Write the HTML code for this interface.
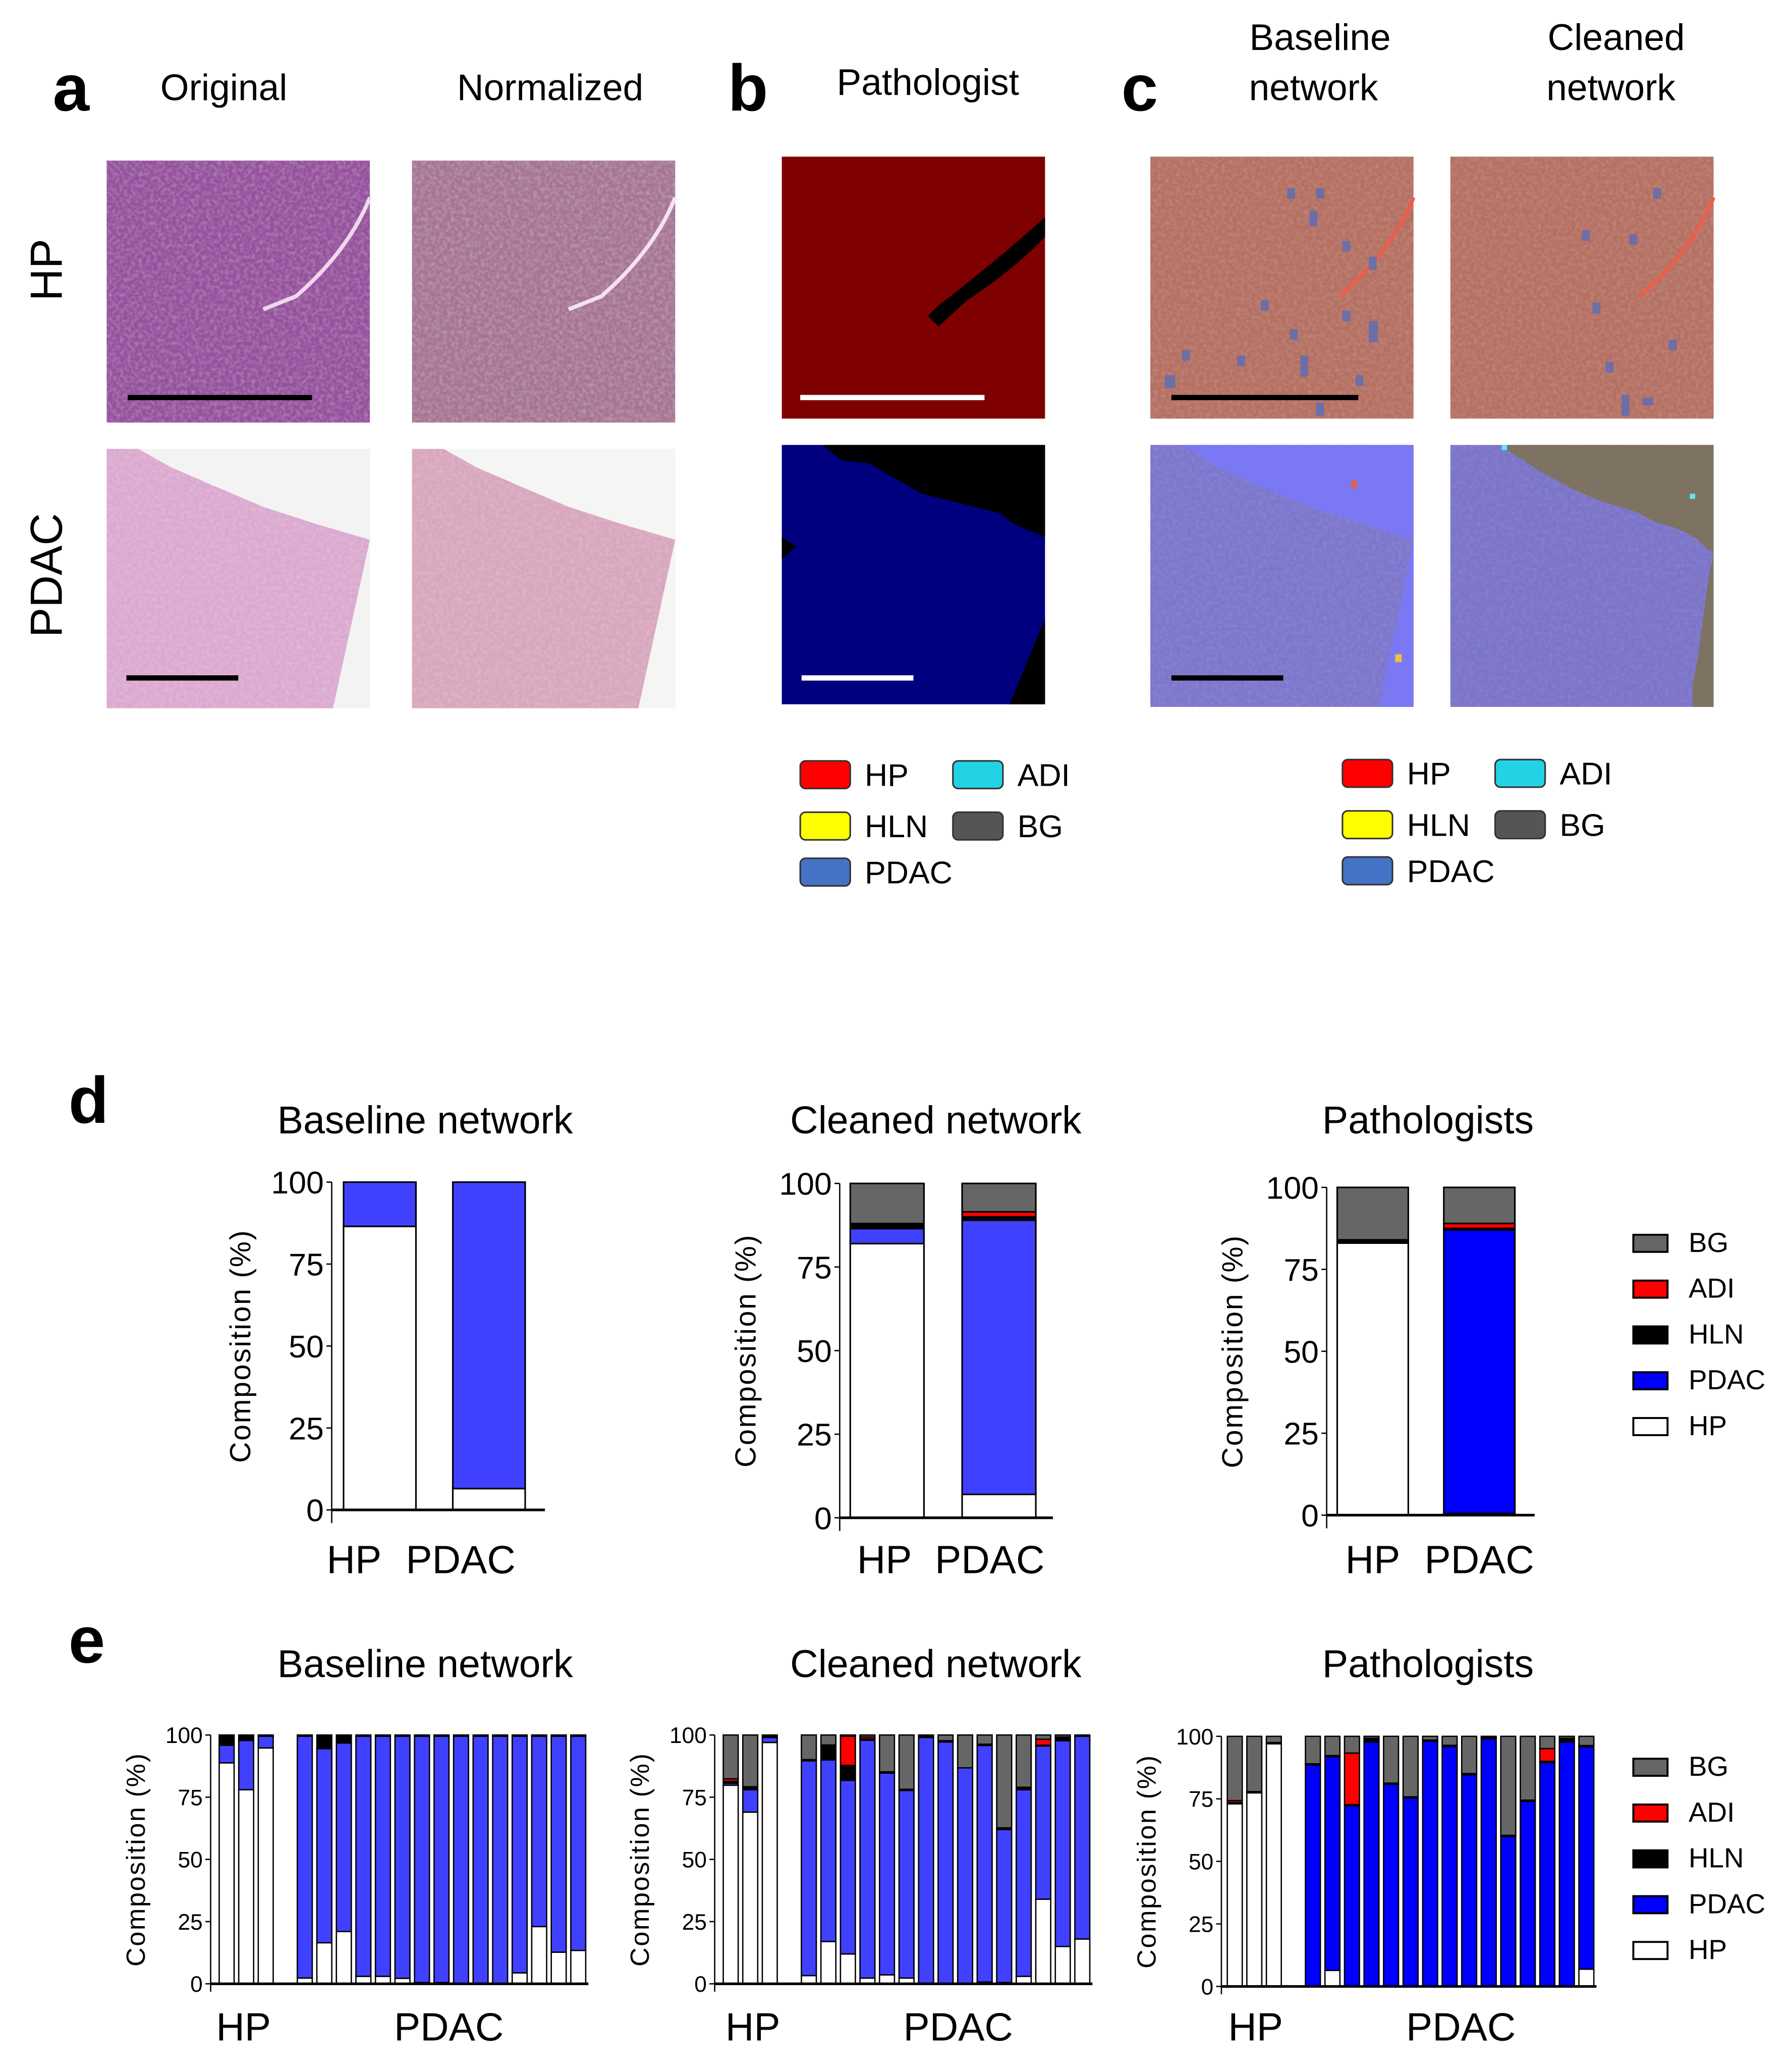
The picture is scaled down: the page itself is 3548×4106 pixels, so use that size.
<!DOCTYPE html>
<html><head><meta charset="utf-8">
<style>
html,body{margin:0;padding:0;background:#fff;}
svg{display:block;}
.t{font-family:"Liberation Sans",Arial,sans-serif;fill:#000;}
.n{font-family:"Liberation Sans Narrow","Liberation Sans",Arial,sans-serif;fill:#000;}
</style></head>
<body>
<svg id="fig" width="3548" height="4106" viewBox="0 0 1360 1574" xmlns="http://www.w3.org/2000/svg">
<defs>
<filter id="grain" x="0" y="0" width="1" height="1">
<feTurbulence type="fractalNoise" baseFrequency="0.35" numOctaves="2" seed="3"/>
<feColorMatrix type="matrix" values="0 0 0 0 1  0 0 0 0 1  0 0 0 0 1  0 0 0 -1.4 0.9"/>
</filter>
</defs>

<text class="t" x="40" y="84" font-size="50" font-weight="bold">a</text>
<text class="t" x="170" y="76" font-size="28" text-anchor="middle">Original</text>
<text class="t" x="418" y="76" font-size="28" text-anchor="middle">Normalized</text>
<text class="t" x="553" y="84" font-size="50" font-weight="bold">b</text>
<text class="t" x="705" y="72" font-size="28" text-anchor="middle">Pathologist</text>
<text class="t" x="852" y="84" font-size="50" font-weight="bold">c</text>
<text class="t" x="1003" y="38" font-size="28" text-anchor="middle"><tspan x="1003">Baseline</tspan><tspan x="998" dy="38">network</tspan></text>
<text class="t" x="1228" y="38" font-size="28" text-anchor="middle"><tspan x="1228">Cleaned</tspan><tspan x="1224" dy="38">network</tspan></text>
<text class="t" font-size="34" text-anchor="middle" transform="translate(47,205) rotate(-90)">HP</text>
<text class="t" font-size="34" text-anchor="middle" transform="translate(47,437) rotate(-90)">PDAC</text>

<g>
<rect x="81" y="122" width="200" height="199" fill="#94519c"/>
<rect x="81" y="122" width="200" height="199" filter="url(#grain)" opacity="0.35"/>
<path d="M281,150 Q265,190 225,225 L200,235" stroke="#f0d8ec" stroke-width="3" fill="none"/>
<rect x="97" y="300" width="140" height="4" fill="#000"/>
</g>
<g>
<rect x="313" y="122" width="200" height="199" fill="#a57494"/>
<rect x="313" y="122" width="200" height="199" filter="url(#grain)" opacity="0.35"/>
<path d="M513,150 Q497,190 457,225 L432,235" stroke="#f5e2ee" stroke-width="3" fill="none"/>
</g>
<g>
<rect x="81" y="341" width="200" height="197" fill="#dba9cf"/>
<rect x="81" y="341" width="200" height="197" filter="url(#grain)" opacity="0.25"/>
<polygon points="105,341 281,341 281,538 253,538 281,410 240,398 200,385 160,368 130,355" fill="#f4f3f4"/>
<rect x="96" y="513" width="85" height="4" fill="#000"/>
</g>
<g>
<rect x="313" y="341" width="200" height="197" fill="#d8a6bd"/>
<rect x="313" y="341" width="200" height="197" filter="url(#grain)" opacity="0.25"/>
<polygon points="337,341 513,341 513,538 485,538 513,410 472,398 432,385 392,368 362,355" fill="#f5f6f4"/>
</g>

<g>
<rect x="594" y="119" width="200" height="199" fill="#7f0000"/>
<path d="M794,165 L794,180 Q770,205 735,228 L713,248 L705,240 L713,232 Q755,200 794,165 Z" fill="#000"/>
<rect x="608" y="300" width="140" height="4" fill="#fff"/>
</g>
<g>
<rect x="594" y="338" width="200" height="197" fill="#00007f"/>
<polygon points="625,338 794,338 794,408 770,398 760,390 700,375 660,352 640,350" fill="#000"/>
<polygon points="794,470 794,535 767,535" fill="#000"/>
<polygon points="594,408 605,415 594,425" fill="#000"/>
<rect x="609" y="513" width="85" height="4" fill="#fff"/>
</g>

<g>
<rect x="874" y="119" width="200" height="199" fill="#b47062"/>
<rect x="874" y="119" width="200" height="199" filter="url(#grain)" opacity="0.2"/>
<path d="M1074,150 Q1058,190 1018,225" stroke="#e8604a" stroke-width="3" fill="none"/>
<g fill="#6c6ea8">
<rect x="978" y="143" width="6" height="8"/><rect x="1000" y="143" width="6" height="8"/><rect x="995" y="160" width="6" height="12"/>
<rect x="1020" y="183" width="6" height="8"/><rect x="1040" y="195" width="6" height="10"/><rect x="958" y="228" width="6" height="8"/>
<rect x="1020" y="236" width="6" height="8"/><rect x="1040" y="244" width="7" height="16"/><rect x="980" y="250" width="6" height="8"/>
<rect x="898" y="266" width="6" height="8"/><rect x="940" y="270" width="6" height="8"/><rect x="988" y="270" width="6" height="16"/>
<rect x="885" y="285" width="8" height="10"/><rect x="1030" y="285" width="6" height="8"/><rect x="1000" y="306" width="6" height="10"/>
</g>
<rect x="890" y="300" width="142" height="4" fill="#000"/>
</g>
<g>
<rect x="1102" y="119" width="200" height="199" fill="#b47062"/>
<rect x="1102" y="119" width="200" height="199" filter="url(#grain)" opacity="0.2"/>
<path d="M1302,150 Q1286,190 1246,225" stroke="#e8604a" stroke-width="3" fill="none"/>
<g fill="#6c6ea8">
<rect x="1256" y="143" width="6" height="8"/><rect x="1202" y="175" width="6" height="8"/><rect x="1238" y="178" width="6" height="8"/>
<rect x="1210" y="230" width="6" height="8"/><rect x="1268" y="258" width="6" height="8"/><rect x="1220" y="275" width="6" height="8"/>
<rect x="1232" y="300" width="6" height="16"/><rect x="1248" y="302" width="8" height="6"/>
</g>
</g>
<g>
<rect x="874" y="338" width="200" height="199" fill="#7c77cd"/>
<rect x="874" y="338" width="200" height="199" filter="url(#grain)" opacity="0.12"/>
<polygon points="900,338 1074,338 1074,537 1048,537 1074,410 1035,398 995,385 955,368 925,355" fill="#7b78f4"/>
<rect x="1027" y="365" width="4" height="6" fill="#e86040"/>
<rect x="1060" y="497" width="5" height="6" fill="#f0c040"/>
<rect x="890" y="513" width="85" height="4" fill="#000"/>
</g>
<g>
<rect x="1102" y="338" width="200" height="199" fill="#7b74c8"/>
<rect x="1102" y="338" width="200" height="199" filter="url(#grain)" opacity="0.12"/>
<polygon points="1140,338 1302,338 1302,537 1286,537 1286,520 1290,500 1294,470 1298,440 1302,420 1296,416 1290,410 1280,404 1270,400 1256,396 1246,390 1234,386 1220,382 1200,374 1185,366 1170,358 1158,350 1148,344" fill="#7e7262"/>
<rect x="1141" y="338" width="4" height="4" fill="#60e8f0"/>
<rect x="1284" y="375" width="4" height="4" fill="#60e8f0"/>
</g>

<g id="leg-b"></g>
<g id="leg-c"></g>

<text class="t" x="52" y="853" font-size="50" font-weight="bold">d</text>
<text class="t" x="52" y="1263" font-size="50" font-weight="bold">e</text>
<g id="charts"></g>
</svg>

<script>
// ----- Panel d data (percent composition per class: HP, PDAC, HLN, ADI, BG) -----
const dCategories = ["HP", "PDAC"];
const classNames = ["HP", "PDAC", "HLN", "ADI", "BG"];
const dBaselineHP   = [86.5, 13.5, 0, 0, 0];
const dBaselinePDAC = [6.5, 93.5, 0, 0, 0];
const dCleanedHP    = [82, 4.5, 1.5, 0, 12];
const dCleanedPDAC  = [7, 82, 1, 1.5, 8.5];
const dPathHP       = [83, 0, 1, 0, 16];
const dPathPDAC     = [0.5, 86.5, 0.5, 1.5, 11];

// ----- Panel e data (per-sample, 3 HP + 15 PDAC) -----
const eBaseWhite = [88.8,78,94.8, 2.3,16.5,21,3,3,2.2,0.5,0.5,0,0,0,4.4,23,12.7,13.4];
const eBasePdac  = [7.1,19.8,4.7, 97.2,78,75.8,96.5,96.5,97.3,99,99,99.5,99.5,99.5,95.1,76.5,86.8,86.1];
const eBaseHln   = [4.1,2.2,0.5, 0.5,5.5,3.2,0.5,0.5,0.5,0.5,0.5,0.5,0.5,0.5,0.5,0.5,0.5,0.5];
const eBaseAdi   = [0,0,0, 0,0,0,0,0,0,0,0,0,0,0,0,0,0,0];
const eBaseBg    = [0,0,0, 0,0,0,0,0,0,0,0,0,0,0,0,0,0,0];

const eCleanWhite = [79.8,69,97, 3.3,17,12,2.3,3.6,2.3,0.2,0,0,0.7,0.5,3,34,15,18];
const eCleanPdac  = [0.8,9,2, 86.3,73,69.8,95.6,81.1,75.4,98.8,97.2,86.8,95.1,61.5,75,61.6,82.7,81.5];
const eCleanHln   = [0.8,1.2,0.5, 0.5,6,6,0.5,0.5,0.5,1,0.5,0,0.5,0.7,1,0.3,1.5,0.5];
const eCleanAdi   = [1,0,0, 0,0,11.7,0.8,0,0,0,0,0,0,0,0,2.4,0,0];
const eCleanBg    = [17.6,20.8,0.5, 9.9,4,0.5,0.8,14.8,21.8,0,2.3,13.2,3.7,37.3,21,1.7,0.8,0];

const ePathWhite = [73,77.4,97, 0,6.4,0,0,0,0,0,0,0,0,0,0,0,0,6.9];
const ePathPdac  = [0,0,0, 88.5,85.4,72.2,97.7,80.8,75.3,98,95.9,84.6,99,59.9,74,89.5,97.7,88.9];
const ePathHln   = [0.5,0.5,0.5, 0.5,0.5,0.5,1.5,0.5,0.5,0.5,0.5,0.5,0.5,0.5,0.5,0.5,1.5,0.5];
const ePathAdi   = [0.8,0,0, 0,0,20.6,0,0,0,0,0,0,0,0,0,5.1,0,0];
const ePathBg    = [25.7,22.1,2.5, 11,7.7,6.7,0.8,18.7,24.2,1.5,3.6,14.9,0.5,39.6,25.5,4.9,0.8,3.7];

const yTicks = [0, 25, 50, 75, 100];
const legendLabels = ["BG", "ADI", "HLN", "PDAC", "HP"];

const NS = "http://www.w3.org/2000/svg";
const charts = document.getElementById("charts");
function mk(tag, attrs, parent) {
  const e = document.createElementNS(NS, tag);
  for (const k in attrs) e.setAttribute(k, attrs[k]);
  (parent || charts).appendChild(e);
  return e;
}
function txt(s, attrs, parent, name) {
  const e = mk("text", attrs, parent);
  e.textContent = s;
  
  
  return e;
}

function fig_legend(gid, x0, y0) {
  const g = document.getElementById(gid);
  const items = [["HP","#ff0000",0,0],["ADI","#22d3e6",1,0],["HLN","#ffff00",0,1],["BG","#555555",1,1],["PDAC","#4472c4",0,2]];
  const ys = [0, 39, 74];
  items.forEach(it => {
    const x = x0 + it[2]*116, y = y0 + ys[it[3]];
    const r = mk("rect", {x:x, y:y, width:38, height:21, rx:4, fill:it[1], stroke:"#333", "stroke-width":1.2}, g);
    
    
    txt(it[0], {class:"t", x:x+49, y:y+19, "font-size":24}, g, 'legend-label-' + it[0].toLowerCase());
  });
}
fig_legend("leg-b", 608, 578);
fig_legend("leg-c", 1020, 577);

const colors = ["#ffffff", null, "#000000", "#ff0000", "#666666"];

function chart(cfg) {
  const g = mk("g", {});
  
  
  const yScale = v => cfg.y0 - (v/100)*(cfg.y0 - cfg.y100);
  txt(cfg.title, {class:"t", x:cfg.titleX, y:cfg.titleY, "font-size":29.5, "text-anchor":"middle"}, g, 'chart-title');
  cfg.series[0].forEach((_, i) => {
    const xs = cfg.barX(i);
    let acc = 0;
    for (let s = 0; s < 5; s++) {
      const v = cfg.series[s][i];
      if (v <= 0) continue;
      const y1 = yScale(acc + v), y2 = yScale(acc);
      const r = mk("rect", {x:xs, y:y1, width:cfg.bw, height:Math.max(0, y2-y1), fill: s===1 ? cfg.blue : colors[s], stroke:"#000", "stroke-width":cfg.sw}, g);
      
      
      acc += v;
    }
  });
  const ya = mk("line", {x1:cfg.ax, y1:cfg.y100, x2:cfg.ax, y2:cfg.y0 + cfg.yExt, stroke:"#000", "stroke-width":1}, g);
  
  
  const xa = mk("line", {x1:cfg.ax, y1:cfg.y0, x2:cfg.axEnd, y2:cfg.y0, stroke:"#000", "stroke-width":2}, g);
  
  
  yTicks.forEach(t => {
    const y = yScale(t);
    const tk = mk("line", {x1:cfg.ax-4, y1:y, x2:cfg.ax, y2:y, stroke:"#000", "stroke-width":1}, g);
    
    
    txt(String(t), {class:"n", x:cfg.ax-6, y:y+cfg.tf*0.36, "font-size":cfg.tf, "text-anchor":"end"}, g, 'y-tick-label');
  });
  txt("Composition (%)", {class:"t", "font-size":cfg.af, "text-anchor":"middle", fill:"#222", transform:`translate(${cfg.atX},${(cfg.y0+cfg.y100)/2}) rotate(-90)`, "letter-spacing":"1"}, g, 'y-axis-title');
  cfg.cats.forEach(c => txt(c[0], {class:"n", x:c[1], y:cfg.catY, "font-size":30, "text-anchor":"middle"}, g, 'x-category-label'));
}

function legend(x, y0, gap, name) {
  const g = mk("g", {});
  
  
  const fills = {BG:"#666666", ADI:"#ff0000", HLN:"#000000", PDAC:"#0000ff", HP:"#ffffff"};
  legendLabels.forEach((l, i) => {
    const y = y0 + i*gap;
    const r = mk("rect", {x:x, y:y, width:26, height:13, fill:fills[l], stroke:"#000", "stroke-width":1.5}, g);
    
    
    txt(l, {class:"n", x:x+42, y:y+13, "font-size":21, fill:"#222"}, g, 'legend-label-' + l.toLowerCase());
  });
}

function dSeries(a, b) { return [0,1,2,3,4].map(s => [a[s], b[s]]); }

const dCfgs = [
  {name:"d-baseline-chart", title:"Baseline network", titleX:323, y100:898, y0:1147, ax:252, axEnd:414, bars:[261,344], bw:55, blue:"#4040ff", atX:190, data:dSeries(dBaselineHP,dBaselinePDAC), cats:[["HP",269],["PDAC",350]]},
  {name:"d-cleaned-chart", title:"Cleaned network", titleX:711, y100:899, y0:1153, ax:638, axEnd:800, bars:[646,731], bw:56, blue:"#4040ff", atX:574, data:dSeries(dCleanedHP,dCleanedPDAC), cats:[["HP",672],["PDAC",752]]},
  {name:"d-pathologists-chart", title:"Pathologists", titleX:1085, y100:902, y0:1151, ax:1008, axEnd:1166, bars:[1016,1097], bw:54, blue:"#0000ff", atX:944, data:dSeries(dPathHP,dPathPDAC), cats:[["HP",1043],["PDAC",1124]]}
];
dCfgs.forEach(c => chart({name:c.name, title:c.title, titleX:c.titleX, titleY:861, y100:c.y100, y0:c.y0, yExt:10,
  ax:c.ax, axEnd:c.axEnd, bw:c.bw, sw:1.2, blue:c.blue, series:c.data, barX:i => c.bars[i],
  tf:24, af:22, atX:c.atX, cats:c.cats, catY:1195}));
legend(1241, 938, 34.8, "d-legend");

const slot = (447-165)/19;
function eBarX(start) { return i => start + (i < 3 ? i : i + 1) * slot + 1.5; }
const eCfgs = [
  {name:"e-baseline-chart", title:"Baseline network", titleX:323, y100:1318, y0:1507, ax:160, start:165, blue:"#4040ff", atX:110, data:[eBaseWhite,eBasePdac,eBaseHln,eBaseAdi,eBaseBg], cats:[["HP",185],["PDAC",341]]},
  {name:"e-cleaned-chart", title:"Cleaned network", titleX:711, y100:1318, y0:1507, ax:543, start:548, blue:"#4040ff", atX:493, data:[eCleanWhite,eCleanPdac,eCleanHln,eCleanAdi,eCleanBg], cats:[["HP",572],["PDAC",728]]},
  {name:"e-pathologists-chart", title:"Pathologists", titleX:1085, y100:1319, y0:1509, ax:928, start:931, blue:"#0000ff", atX:878, data:[ePathWhite,ePathPdac,ePathHln,ePathAdi,ePathBg], cats:[["HP",954],["PDAC",1110]]}
];
eCfgs.forEach(c => chart({name:c.name, title:c.title, titleX:c.titleX, titleY:1274, y100:c.y100, y0:c.y0, yExt:6,
  ax:c.ax, axEnd:c.start+19*slot, bw:slot-3.5, sw:1, blue:c.blue, series:c.data, barX:eBarX(c.start),
  tf:17, af:20, atX:c.atX, cats:c.cats, catY:1550}));
legend(1241, 1336, 34.8, "e-legend");
</script>
</body></html>
